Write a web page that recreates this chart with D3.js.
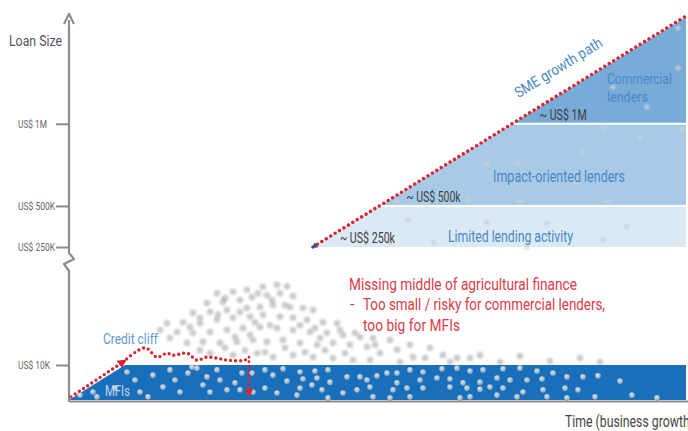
<!DOCTYPE html>
<html>
<head>
<meta charset="utf-8">
<script src="https://cdn.jsdelivr.net/npm/d3@7"></script>
<style>
  html, body { margin: 0; padding: 0; background: #fff; overflow: hidden; }
  text { font-family: Roboto, "Noto Sans", sans-serif; }
</style>
</head>
<body>
<svg id="chart" width="688" height="431"></svg>
<script>
// Loan-size axis ticks (thousands of US$)
const tickValues = [10, 250, 500, 1000];
const tickLabels = ["US$ 10K", "US$ 250K", "US$ 500K", "US$ 1M"];

// Lender segments along the SME growth path (thousands of US$)
const bandNames = ["Limited lending activity", "Impact-oriented lenders", "Commercial lenders"];
const bandFloors = [250, 500, 1000];
const bandCeilings = [500, 1000, 1650];
const bandFloorLabels = ["~ US$ 250k", "~ US$ 500k", "~ US$ 1M"];

// Growth path: [time, loan size]
const growthPath = [[24.4, 250], [61.8, 1660]];
const growthEnd = 61.7;

// MFI lending zone: [time, loan size]
const mfiZone = [[0, 0], [5.6, 10], [61.7, 10], [61.7, 0]];

// Credit cliff route: rise, stall, then fall back to the floor
const cliffRise = [[0.2, 0.9], [5.4, 16]];
const cliffStall = [[5.4, 16], [7.6, 45], [8.8, 26], [9.8, 34], [10.4, 30], [11.8, 34], [12.8, 20],
                    [13.8, 26], [14.8, 24], [15.8, 20], [17.6, 20], [17.9, 26]];
const cliffFall = [[18.0, 26], [18.0, 2.0]];

// Small loans served by MFIs: [time, loan size]
const mfiLoans = [
  [1.1,1.4],[2.4,2.3],[2.8,0.9],[4.6,3.4],[5.8,8.0],[6.6,5.7],[7.1,2.3],[7.9,0.9],[8.4,7.1],[9.4,3.7],
  [10.1,8.6],[10.6,5.7],[11.1,2.3],[11.9,7.7],[12.3,9.4],[12.8,9.1],[13.4,4.3],[13.8,6.6],[14.1,2.3],
  [14.8,8.6],[15.1,5.7],[15.8,2.9],[16.6,4.9],[17.3,7.7],[17.1,2.9],[18.4,2.3],[18.3,7.7],
  [19.6,8.6],[21.4,8.9],[23.1,8.0],[24.6,8.3],[25.9,8.6],[27.8,6.6],[29.1,6.6],[30.8,6.9],[31.8,7.7],
  [32.8,7.7],[34.1,8.6],[35.4,8.0],[37.3,8.9],[38.8,9.1],[40.1,8.3],[41.4,8.6],[43.4,8.9],[45.1,9.1],
  [46.8,8.3],[48.4,7.7],[49.8,6.6],[51.4,6.6],[52.9,6.9],[55.1,5.4],[20.4,7.1],[21.8,5.4],[23.4,6.0],
  [24.8,6.3],[26.1,5.1],[29.8,5.7],[32.8,4.9],[35.1,5.7],[36.8,6.3],[38.1,6.0],[39.4,4.9],[41.1,5.1],
  [42.8,6.3],[44.1,5.7],[45.8,5.7],[47.3,6.0],[49.6,3.4],[50.9,2.9],[19.6,3.4],[20.8,2.0],[23.1,3.4],
  [24.3,4.3],[25.3,2.9],[27.4,2.0],[28.8,2.9],[30.1,3.7],[32.4,2.9],[33.8,3.4],[35.4,3.4],[38.1,3.7],
  [39.8,3.4],[41.1,3.1],[42.1,3.7],[43.4,3.4],[45.4,2.3],[47.4,2.9],[22.8,1.4],[25.9,0.6],[30.4,0.9],
  [32.1,0.6],[34.1,0.9],[39.1,0.6],[40.1,0.9],[42.8,1.4],[44.8,0.9],[47.8,0.9],[49.8,0.6],[52.6,0.9],
  [56.3,1.4],[58.8,0.6]
];

// Missing-middle loans: [time, loan size]
const middleLoans = [
  [14.8,156],[16.4,159],[17.8,163],[19.4,169],[20.8,173],[21.8,170],
  [13.8,136],[15.4,138],[17.1,142],[18.3,148],[19.8,152],[21.1,156],[22.4,150],
  [12.4,116],[14.1,118],[15.8,122],[17.8,126],[19.1,128],[20.4,132],[22.1,128],[23.4,126],[24.4,122],
  [9.8,95],[11.4,97],[13.1,95],[14.8,102],[16.4,106],[18.1,108],[19.4,112],[21.1,108],[22.4,106],
  [23.8,102],[25.4,97],[26.8,95],
  [10.8,77],[12.4,75],[14.1,77],[15.8,81],[17.4,85],[19.1,87],[20.8,85],[22.4,81],[24.1,77],[25.8,75],
  [27.4,71],[29.1,67],[30.4,65],
  [11.8,55],[13.4,57],[15.1,55],[16.8,57],[18.4,61],[19.8,57],[21.4,61],[23.1,55],[24.8,51],[26.4,55],
  [28.1,51],[29.8,47],
  [14.1,34],[16.4,30],[18.8,34],[20.4,26],[22.4,30],[24.4,26],[26.4,24],[28.4,20],[30.1,20],
  [31.1,34],[32.8,41],[34.4,26],[36.1,45],[37.4,30],[38.8,24],[40.1,24],
  [33.1,16],[38.1,16],[43.1,16],[48.1,18],[53.1,16],
  [15.6,146],[18.9,156],[20.3,142],[21.6,132],[17.1,118],[14.9,112],[13.1,106],[18.6,97],[20.1,91],
  [23.1,91],[24.6,85],[12.1,87],[16.6,67],[18.1,71],[25.1,65],[27.1,81],[28.6,75],[30.6,51],[32.1,61],
  [13.1,40],[15.6,45],[17.6,40],[19.6,36],[21.6,45],[23.6,36],[25.6,40],[27.6,34],[10.1,65],[9.1,81],
  [34.1,51],[35.6,24],[41.1,30],[45.1,28],[51.1,24]
];

// Larger loans across the upper segments: [time, loan size]
const upperLoans = [
  [60.9,1583],[60.9,1340],[54.4,1224],[57.8,1102],[53.4,974],[61.3,962],[57.1,913],[51.4,828],
  [44.9,761],[41.8,761],[50.8,646],[39.8,536],[45.1,524],[53.8,524],[32.8,518],[35.8,518],
  [33.9,414],[41.8,402],[47.8,396],[55.8,372],[32.1,274],[36.4,280],[45.8,250],[53.4,293]
];

const svg = d3.select("#chart");

const x = d3.scaleLinear().domain([0, 62]).range([69, 689]);
// Broken loan-size axis: linear pieces below and above the break
const y = d3.scaleLinear().domain([0, 10, 250, 1650]).range([400, 365, 247, 17]);

const RED = "#da2430", NOTE_RED = "#dd3a48", BLUE_TEXT = "#4a88c5", GREY_TEXT = "#555";
const bandFills = ["#dbe9f5", "#a8cae7", "#78abd8"];

// condensed lettering: each label is squeezed to its set width
function label(sel, str, width, size) {
  return sel.append("text").attr("font-size", size).attr("textLength", width)
    .attr("lengthAdjust", "spacingAndGlyphs").text(str);
}

const defs = svg.append("defs");
defs.append("filter").attr("id", "haze").attr("x", "-50%").attr("y", "-50%").attr("width", "200%").attr("height", "200%")
  .append("feGaussianBlur").attr("stdDeviation", 1.3);
defs.append("filter").attr("id", "soft").attr("x", "-50%").attr("y", "-50%").attr("width", "200%").attr("height", "200%")
  .append("feGaussianBlur").attr("stdDeviation", 0.45);
const dotGrad = defs.append("radialGradient").attr("id", "dotShade").attr("cx", "40%").attr("cy", "35%").attr("r", "65%");
dotGrad.append("stop").attr("offset", "0%").attr("stop-color", "#d8e2ec");
dotGrad.append("stop").attr("offset", "100%").attr("stop-color", "#90a8bf");

function arrowMarker(id, color, size) {
  defs.append("marker").attr("id", id).attr("viewBox", "0 0 10 10").attr("refX", 5).attr("refY", 5)
    .attr("markerWidth", size).attr("markerHeight", size).attr("orient", "auto").attr("markerUnits", "userSpaceOnUse")
    .append("path").attr("d", "M0,0 L10,5 L0,10 Z").attr("fill", color);
}
arrowMarker("redArrow", RED, 9);
arrowMarker("blueArrow", "#1d5f9c", 6);

// ---- upper lender segments beneath the growth path ----
const P0 = [x(growthPath[0][0]), y(growthPath[0][1])];
const P1 = [x(growthEnd), y(bandCeilings[2])];
const xOnPath = py => P0[0] + (P0[1] - py) / (P0[1] - P1[1]) * (P1[0] - P0[0]);
const xRight = x(growthEnd);

const bands = svg.append("g");
bandNames.forEach((name, i) => {
  const yLo = y(bandFloors[i]), yHi = y(bandCeilings[i]);
  const pts = [[xOnPath(yLo), yLo], [xRight, yLo], [xRight, yHi], [xOnPath(yHi), yHi]];
  bands.append("path").attr("d", d3.line()(pts) + "Z").attr("fill", bandFills[i]);
});
// white seams between segments
bandFloors.slice(1).forEach(v => {
  bands.append("line").attr("x1", xOnPath(y(v)) - 2).attr("x2", xRight).attr("y1", y(v)).attr("y2", y(v))
    .attr("stroke", "#fff").attr("stroke-width", 2);
});

svg.append("g").selectAll("circle").data(upperLoans).join("circle")
  .attr("cx", d => x(d[0])).attr("cy", d => y(d[1])).attr("r", 2.6)
  .attr("fill", "#c7d0d9").attr("opacity", 0.85).attr("filter", "url(#haze)");

// ---- missing middle cloud ----
svg.append("g").selectAll("circle").data(middleLoans).join("circle")
  .attr("cx", d => x(d[0])).attr("cy", d => y(d[1])).attr("r", 3.3)
  .attr("fill", "#999").attr("opacity", 0.5).attr("filter", "url(#haze)");

// ---- MFI zone ----
svg.append("path").attr("d", d3.line().x(d => x(d[0])).y(d => y(d[1]))(mfiZone) + "Z").attr("fill", "#1a6fba");
svg.append("g").selectAll("circle").data(mfiLoans).join("circle")
  .attr("cx", d => x(d[0])).attr("cy", d => y(d[1])).attr("r", 2.8)
  .attr("fill", "url(#dotShade)").attr("filter", "url(#soft)");

// ---- axes ----
const axisColor = "#8c8c8c";
const xAxis = svg.append("g").attr("transform", `translate(0,${y(0) + 1})`)
  .call(d3.axisBottom(x).tickValues([]).tickSizeOuter(0));
xAxis.select(".domain").attr("stroke", axisColor).attr("stroke-width", 2.2);

const tickWidths = [32, 37, 37, 29];
const yAxis = svg.append("g").attr("transform", `translate(${x(0)},0)`)
  .call(d3.axisLeft(y).tickValues(tickValues).tickSize(13).tickFormat((d, i) => tickLabels[i]));
yAxis.select(".domain").remove();
yAxis.selectAll(".tick line").attr("stroke", axisColor).attr("stroke-width", 2);
yAxis.selectAll(".tick text").attr("x", -51).attr("text-anchor", "start").attr("fill", "#666")
  .attr("font-size", 10.5).attr("dy", "0.33em").attr("font-family", "Roboto, sans-serif")
  .attr("textLength", (d, i) => tickWidths[i]).attr("lengthAdjust", "spacingAndGlyphs");

// axis spine with break between 10K and 250K
const xa = x(0);
const breakTop = 253, breakBot = 271;
svg.append("path")
  .attr("d", `M${xa},${y(0) + 2} L${xa},${breakBot} L${xa - 5},${breakBot - 7} L${xa + 5},${breakTop + 6} L${xa},${breakTop} L${xa},20`)
  .attr("fill", "none").attr("stroke", axisColor).attr("stroke-width", 2.2).attr("stroke-linejoin", "round");
svg.append("path").attr("d", `M${xa - 5},24 L${xa},14 L${xa + 5},24`)
  .attr("fill", "none").attr("stroke", axisColor).attr("stroke-width", 2.2).attr("stroke-linejoin", "round");

label(svg, "Loan Size", 53, 14).attr("x", 9).attr("y", 46).attr("fill", GREY_TEXT);
label(svg, "Time (business growth)", 129, 16).attr("x", 565).attr("y", 427).attr("fill", "#444");

// ---- growth path ----
const pathLine = d3.line().x(d => x(d[0])).y(d => y(d[1]));
svg.append("path").attr("d", pathLine(growthPath)).attr("fill", "none")
  .attr("stroke", RED).attr("stroke-width", 3.6).attr("stroke-linecap", "round").attr("stroke-dasharray", "0 5.2");
svg.append("path").attr("d", `M${P0[0] + 6},${P0[1] - 3.7} L${P0[0] + 1},${P0[1] - 0.6}`)
  .attr("fill", "none").attr("marker-end", "url(#blueArrow)");

const angle = Math.atan2(P1[1] - P0[1], P1[0] - P0[0]) * 180 / Math.PI;
label(svg, "SME growth path", 100, 15).attr("transform", `translate(561,72) rotate(${angle})`)
  .attr("text-anchor", "middle").attr("x", 0).attr("y", 0).attr("fill", BLUE_TEXT);

// segment labels
const floorWidths = [55, 54, 47];
bandFloorLabels.forEach((lab, i) => {
  const py = y(bandFloors[i]);
  label(svg, lab, floorWidths[i], 14).attr("x", xOnPath(py) + 27).attr("y", py - 4).attr("fill", "#3d3d3d");
});
label(svg, bandNames[0], 125, 16).attr("x", 448).attr("y", 242).attr("fill", BLUE_TEXT);
label(svg, bandNames[1], 132, 16).attr("x", 493).attr("y", 182).attr("fill", BLUE_TEXT);
label(svg, "Commercial", 65, 14.5).attr("x", 607).attr("y", 84).attr("fill", BLUE_TEXT);
label(svg, "lenders", 41, 14.5).attr("x", 607).attr("y", 102).attr("fill", BLUE_TEXT);

// ---- credit cliff ----
svg.append("path").attr("d", pathLine(cliffRise)).attr("fill", "none").attr("stroke", RED)
  .attr("stroke-width", 3.4).attr("stroke-linecap", "round").attr("stroke-dasharray", "0 5")
  .attr("marker-end", "url(#redArrow)");
svg.append("path").attr("d", d3.line().x(d => x(d[0])).y(d => y(d[1])).curve(d3.curveCatmullRom)(cliffStall))
  .attr("fill", "none").attr("stroke", RED)
  .attr("stroke-width", 3.4).attr("stroke-linecap", "round").attr("stroke-dasharray", "0 5");
svg.append("path").attr("d", pathLine(cliffFall)).attr("fill", "none").attr("stroke", RED)
  .attr("stroke-width", 2.8).attr("stroke-linecap", "round").attr("stroke-dasharray", "0 4.5")
  .attr("marker-end", "url(#redArrow)");

label(svg, "Credit cliff", 55, 15.5).attr("x", 103).attr("y", 344).attr("fill", "#6498c9");
label(svg, "MFIs", 25, 15).attr("x", 105).attr("y", 396).attr("fill", "#c2d6ea");

// ---- missing middle note ----
const note = svg.append("g").attr("fill", NOTE_RED);
label(note, "Missing middle of agricultural finance", 228, 16.5).attr("x", 349).attr("y", 290);
note.append("text").attr("x", 350).attr("y", 310).attr("font-size", 16.5).text("-");
label(note, "Too small / risky for commercial lenders,", 242, 16.5).attr("x", 363).attr("y", 310);
label(note, "too big for MFIs", 97, 16.5).attr("x", 363).attr("y", 331);
</script>
</body>
</html>
